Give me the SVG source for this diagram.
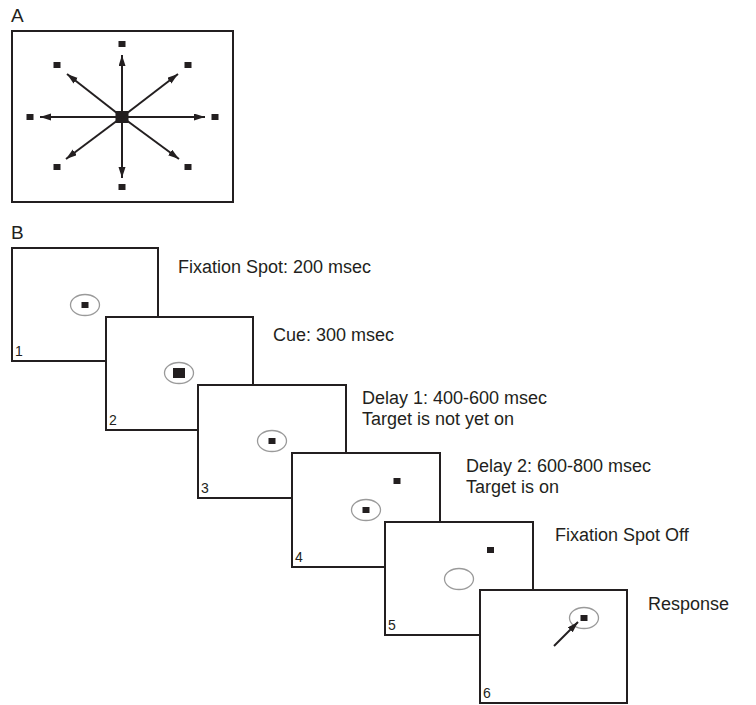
<svg xmlns="http://www.w3.org/2000/svg" width="756" height="705" viewBox="0 0 756 705">
<style>
text{font-family:"Liberation Sans",Arial,sans-serif;fill:#231f20}
.lbl{font-size:18px}
.num{font-size:14px}
.hdr{font-size:19px}
.frame{fill:#fff;stroke:#231f20;stroke-width:2}
.fix{fill:none;stroke:#9a9a9a;stroke-width:1.3}
.dot{fill:#231f20}
.arr{stroke:#231f20;stroke-width:2;fill:none;marker-end:url(#ah)}
</style>
<defs>
<marker id="ah" markerUnits="userSpaceOnUse" markerWidth="12" markerHeight="8" refX="11" refY="3.5" orient="auto">
<path d="M0,0 L11,3.5 L0,7 z" fill="#231f20"/>
</marker>
</defs>
<g id="panelA">
<text class="hdr" x="11" y="22">A</text>
<rect x="12" y="31" width="221" height="171" fill="#fff" stroke="#231f20" stroke-width="2"/>
<rect class="dot" x="115.5" y="111" width="13" height="12"/>
<rect class="dot" x="118.5" y="41" width="7" height="6"/>
<rect class="dot" x="118.5" y="184" width="7" height="6"/>
<rect class="dot" x="26.5" y="114" width="7" height="6"/>
<rect class="dot" x="211.5" y="114" width="7" height="6"/>
<rect class="dot" x="53.5" y="62" width="7" height="6"/>
<rect class="dot" x="184.5" y="62" width="7" height="6"/>
<rect class="dot" x="53.5" y="164" width="7" height="6"/>
<rect class="dot" x="184.5" y="164" width="7" height="6"/>
</g>
<text class="hdr" x="11" y="239">B</text>
<g id="frame1">
<rect class="frame" x="12" y="248" width="146" height="113"/>
<ellipse class="fix" cx="85" cy="305" rx="14.5" ry="10.5"/>
<rect class="dot" x="81.5" y="302" width="7" height="6"/>
<text class="num" x="15" y="356">1</text>
<text class="lbl" x="178" y="273">Fixation Spot: 200 msec</text>
</g>
<g id="frame2">
<rect class="frame" x="106" y="317" width="147" height="113"/>
<ellipse class="fix" cx="179" cy="373" rx="14.5" ry="10.5"/>
<rect class="dot" x="173" y="368" width="12" height="10"/>
<text class="num" x="109" y="425">2</text>
<text class="lbl" x="273" y="341">Cue: 300 msec</text>
</g>
<g id="frame3">
<rect class="frame" x="198" y="385" width="148" height="113"/>
<ellipse class="fix" cx="272" cy="441" rx="14.5" ry="10.5"/>
<rect class="dot" x="268.5" y="438" width="7" height="6"/>
<text class="num" x="201" y="493">3</text>
<text class="lbl" x="362" y="404">Delay 1: 400-600 msec</text>
<text class="lbl" x="362" y="425">Target is not yet on</text>
</g>
<g id="frame4">
<rect class="frame" x="292" y="453" width="148" height="114"/>
<ellipse class="fix" cx="366" cy="510" rx="14.5" ry="10.5"/>
<rect class="dot" x="362.5" y="507" width="7" height="6"/>
<rect class="dot" x="393.5" y="478" width="7" height="6"/>
<text class="num" x="295" y="562">4</text>
<text class="lbl" x="466" y="472">Delay 2: 600-800 msec</text>
<text class="lbl" x="466" y="493">Target is on</text>
</g>
<g id="frame5">
<rect class="frame" x="385" y="522" width="148" height="113"/>
<ellipse class="fix" cx="459" cy="579" rx="14.5" ry="10.5"/>
<rect class="dot" x="487" y="547" width="7" height="6"/>
<text class="num" x="388" y="630">5</text>
<text class="lbl" x="555" y="541">Fixation Spot Off</text>
</g>
<g id="frame6">
<rect class="frame" x="480" y="590" width="147" height="113"/>
<ellipse class="fix" cx="584" cy="618" rx="14.5" ry="10.5"/>
<rect class="dot" x="580.5" y="615" width="7" height="6"/>
<text class="num" x="483" y="698">6</text>
<text class="lbl" x="648" y="610">Response</text>
</g>
<g id="connectors">
<line class="arr" x1="122" y1="117" x2="122" y2="55"/>
<line class="arr" x1="122" y1="117" x2="122" y2="178"/>
<line class="arr" x1="122" y1="117" x2="40" y2="117"/>
<line class="arr" x1="122" y1="117" x2="205" y2="117"/>
<line class="arr" x1="122" y1="117" x2="67" y2="74"/>
<line class="arr" x1="122" y1="117" x2="178" y2="74"/>
<line class="arr" x1="122" y1="117" x2="66" y2="159"/>
<line class="arr" x1="122" y1="117" x2="179" y2="159"/>
<line class="arr" x1="554" y1="646" x2="578" y2="622"/>
</g>
</svg>
